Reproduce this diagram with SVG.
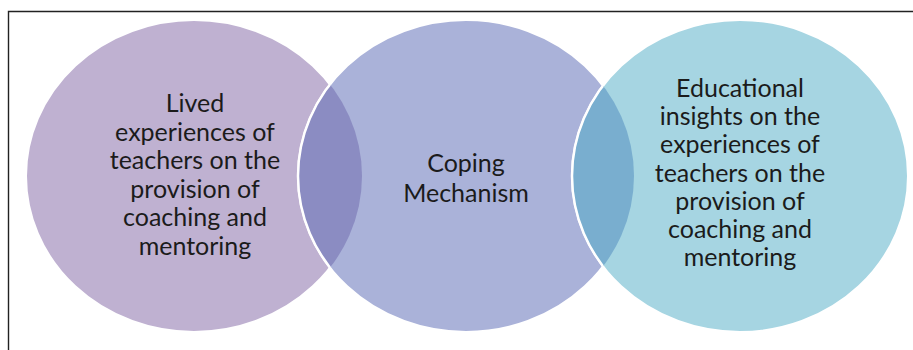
<svg xmlns="http://www.w3.org/2000/svg" width="913" height="350" viewBox="0 0 913 350">
<style>
.lbl{font-family:Lato,"Open Sans","Liberation Sans",sans-serif;font-size:25px;fill:#1b1b1b;text-anchor:middle}
.ring{stroke:#ffffff;stroke-width:2}
</style>
<defs>
<clipPath id="clipC1"><ellipse cx="194" cy="176" rx="168" ry="156"/></clipPath>
<clipPath id="clipC2"><ellipse cx="466" cy="176" rx="168" ry="156"/></clipPath>
</defs>
<rect x="0" y="0" width="913" height="350" fill="#ffffff"/>
<g id="frame"><path d="M8.5 350 V11.5 H913" fill="none" stroke="#222222" stroke-width="1.4"/></g>
<g id="node-lived">
<ellipse class="ring" cx="194" cy="176" rx="168" ry="156" fill="#bfb1d1"/>
</g>
<g id="node-coping">
<ellipse class="ring" cx="466" cy="176" rx="168" ry="156" fill="#aab2d9"/>
</g>
<g id="node-insights">
<ellipse class="ring" cx="740" cy="176" rx="168" ry="156" fill="#a6d5e2"/>
</g>
<g id="connectors">
<ellipse cx="466" cy="176" rx="168" ry="156" fill="#8b8cc2" stroke="#ffffff" stroke-width="2.5" clip-path="url(#clipC1)"/>
<ellipse cx="740" cy="176" rx="168" ry="156" fill="#79aecf" stroke="#ffffff" stroke-width="2.5" clip-path="url(#clipC2)"/>
</g>
<g id="labels">
<text class="lbl" x="195"><tspan x="195" y="112">Lived</tspan><tspan x="195" y="140.5">experiences of</tspan><tspan x="195" y="169">teachers on the</tspan><tspan x="195" y="197.5">provision of</tspan><tspan x="195" y="226">coaching and</tspan><tspan x="195" y="254.5">mentoring</tspan></text>
<text class="lbl" x="466"><tspan x="466" y="172">Coping</tspan><tspan x="466" y="201.5">Mechanism</tspan></text>
<text class="lbl" x="740"><tspan x="740" y="97">Educational</tspan><tspan x="740" y="125.2">insights on the</tspan><tspan x="740" y="153.4">experiences of</tspan><tspan x="740" y="181.6">teachers on the</tspan><tspan x="740" y="209.8">provision of</tspan><tspan x="740" y="238">coaching and</tspan><tspan x="740" y="266.2">mentoring</tspan></text>
</g>
</svg>
